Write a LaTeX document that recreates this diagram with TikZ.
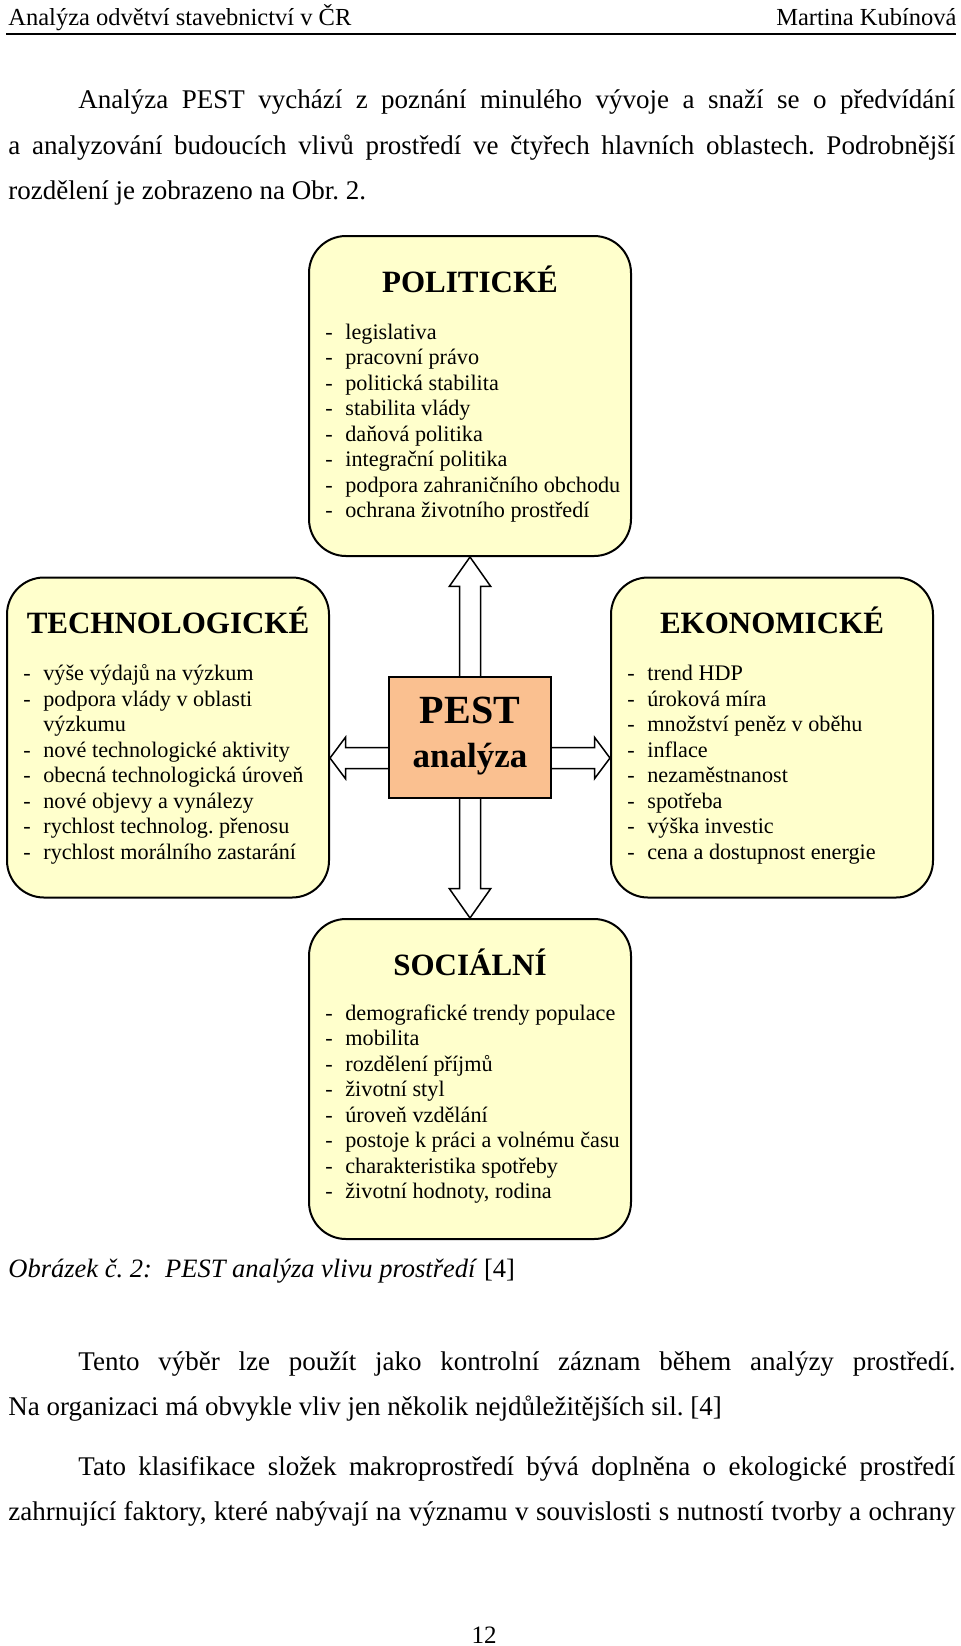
\documentclass[tikz,border=0pt]{standalone}
\usepackage{fontspec}
\setmainfont{Liberation Serif}
\usepackage{xcolor}
\usetikzlibrary{positioning, calc}

\definecolor{boxyellow}{RGB}{255,255,204}
\definecolor{pestorange}{RGB}{250,192,144}
\newcommand{\itm}[1]{\makebox[10pt][l]{-}#1}
\frenchspacing

\begin{document}
\begin{tikzpicture}[
  x=0.5pt, y=-0.5pt,
  headtext/.style={inner sep=0pt, font=\fontsize{12.25}{14}\selectfont},
  pagetext/.style={anchor=base west, inner sep=0pt, font=\fontsize{13.5}{16}\selectfont},
  areabox/.style={draw, line width=1pt, fill=boxyellow, rounded corners=18.5pt, minimum width=161pt, minimum height=160pt, inner sep=0pt},
  areatitle/.style={anchor=base, inner sep=0pt, font=\fontsize{15.5}{18}\selectfont\bfseries},
  arealist/.style={anchor=base west, inner sep=0pt, font=\fontsize{11.1}{12.75}\selectfont},
  pestbox/.style={draw, line width=1pt, fill=pestorange, minimum width=81pt, minimum height=60.5pt, inner sep=0pt},
  arrowline/.style={draw, line width=0.75pt, line join=miter},
  fatarrow/.style={to path={
    let \p1=(\tikztostart), \p2=(\tikztotarget),
        \n1={atan2(\y2-\y1,\x2-\x1)} in
    ($(\p1)+(\n1+90:5.25pt)$)
    -- ($(\p2)+(\n1:-#1)+(\n1+90:5.25pt)$)
    -- ($(\p2)+(\n1:-#1)+(\n1+90:10.35pt)$)
    -- (\p2)
    -- ($(\p2)+(\n1:-#1)+(\n1-90:10.35pt)$)
    -- ($(\p2)+(\n1:-#1)+(\n1-90:5.25pt)$)
    -- ($(\p1)+(\n1-90:5.25pt)$)
  }}
]
  \useasboundingbox (0,0) rectangle (960,1646);

  % header
  \node[headtext, anchor=base west] (headL) at (8,25) {Analýza odvětví stavebnictví v ČR};
  \node[headtext, anchor=base east] (headR) at (957,25) {Martina Kubínová};
  \draw[line width=1pt] (6,33.5) -- (956,33.5);

  % text above
  \node[pagetext] (par1a) at (78,108.5) {\makebox[438.5pt][s]{Analýza PEST vychází z poznání minulého vývoje a snaží se o předvídání}};
  \node[pagetext] (par1b) at (8,154) {\makebox[473.5pt][s]{a analyzování budoucích vlivů prostředí ve čtyřech hlavních oblastech. Podrobnější}};
  \node[pagetext] (par1c) at (8,199) {rozdělení je zobrazeno na Obr. 2.};

  % boxes
  \node[areabox] (pol) at (470,396) {};
  \node[areabox] (tech) at (168,737.5) {};
  \node[areabox] (eko) at (772,737.5) {};
  \node[areabox] (soc) at (470,1079) {};
  \node[pestbox] (pest) at (470,737.5) {};

  \node[areatitle] (polT) at ([yshift=-28.5pt]pol.north) {POLITICKÉ};
  \node[areatitle] (techT) at ([yshift=-28.5pt]tech.north) {TECHNOLOGICKÉ};
  \node[areatitle] (ekoT) at ([yshift=-28.5pt]eko.north) {EKONOMICKÉ};
  \node[areatitle] (socT) at ([yshift=-28.5pt]soc.north) {SOCIÁLNÍ};

  \node[arealist] (polL) at ([xshift=8.5pt, yshift=-52pt]pol.north west) {\begin{tabular}[t]{@{}l@{}}
    \itm{legislativa}\\
    \itm{pracovní právo}\\
    \itm{politická stabilita}\\
    \itm{stabilita vlády}\\
    \itm{daňová politika}\\
    \itm{integrační politika}\\
    \itm{podpora zahraničního obchodu}\\
    \itm{ochrana životního prostředí}
  \end{tabular}};
  \node[arealist] (techL) at ([xshift=8.5pt, yshift=-52pt]tech.north west) {\begin{tabular}[t]{@{}l@{}}
    \itm{výše výdajů na výzkum}\\
    \itm{podpora vlády v oblasti}\\
    \hspace*{10pt}výzkumu\\
    \itm{nové technologické aktivity}\\
    \itm{obecná technologická úroveň}\\
    \itm{nové objevy a vynálezy}\\
    \itm{rychlost technolog. přenosu}\\
    \itm{rychlost morálního zastarání}
  \end{tabular}};
  \node[arealist] (ekoL) at ([xshift=8.5pt, yshift=-52pt]eko.north west) {\begin{tabular}[t]{@{}l@{}}
    \itm{trend HDP}\\
    \itm{úroková míra}\\
    \itm{množství peněz v oběhu}\\
    \itm{inflace}\\
    \itm{nezaměstnanost}\\
    \itm{spotřeba}\\
    \itm{výška investic}\\
    \itm{cena a dostupnost energie}
  \end{tabular}};
  \node[arealist] (socL) at ([xshift=8.5pt, yshift=-51pt]soc.north west) {\begin{tabular}[t]{@{}l@{}}
    \itm{demografické trendy populace}\\
    \itm{mobilita}\\
    \itm{rozdělení příjmů}\\
    \itm{životní styl}\\
    \itm{úroveň vzdělání}\\
    \itm{postoje k práci a volnému času}\\
    \itm{charakteristika spotřeby}\\
    \itm{životní hodnoty, rodina}
  \end{tabular}};

  \node[anchor=base, inner sep=0pt, font=\fontsize{20}{24}\selectfont\bfseries] (pestW) at (470,723) {PEST};
  \node[anchor=base, inner sep=0pt, font=\fontsize{17.5}{21}\selectfont\bfseries] (pestA) at (470,767) {analýza};

  % arrows
  \coordinate (pestL) at ([yshift=-10.25pt]pest.west);
  \coordinate (pestR) at ([yshift=-10.25pt]pest.east);
  \coordinate (techR) at ([yshift=-10.25pt]tech.east);
  \coordinate (ekoL) at ([yshift=-10.25pt]eko.west);
  \draw[arrowline] (pest.north) to[fatarrow=14.7pt] (pol.south);
  \draw[arrowline] (pest.south) to[fatarrow=14.7pt] (soc.north);
  \draw[arrowline] (pestL) to[fatarrow=7.75pt] (techR);
  \draw[arrowline] (pestR) to[fatarrow=7.75pt] (ekoL);

  % caption and text below
  \node[pagetext, font=\fontsize{13.25}{15}\selectfont] (cap) at (8,1277.5) {\textit{Obrázek č. 2:\ \ PEST analýza vlivu prostředí} [4]};
  \node[pagetext] (par2a) at (78,1370) {\makebox[438.5pt][s]{Tento výběr lze použít jako kontrolní záznam během analýzy prostředí.}};
  \node[pagetext] (par2b) at (8,1415) {Na organizaci má obvykle vliv jen několik nejdůležitějších sil. [4]};
  \node[pagetext] (par3a) at (78,1475) {\makebox[438.5pt][s]{Tato klasifikace složek makroprostředí bývá doplněna o ekologické prostředí}};
  \node[pagetext] (par3b) at (8,1520) {\makebox[473.5pt][s]{zahrnující faktory, které nabývají na významu v souvislosti s nutností tvorby a ochrany}};

  \node[pagetext, anchor=base, font=\fontsize{12.5}{15}\selectfont] (pagenum) at (484,1643) {12};
\end{tikzpicture}
\end{document}
